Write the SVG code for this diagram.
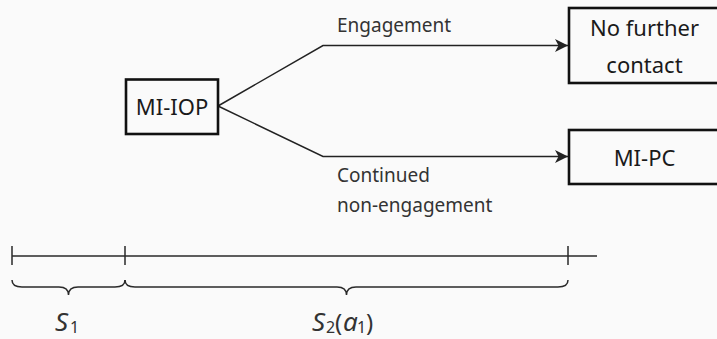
<svg xmlns="http://www.w3.org/2000/svg" width="717" height="339" viewBox="0 0 717 339">
  <defs>
    <marker id="arrow" viewBox="0 0 14 14" refX="13" refY="7" markerWidth="14" markerHeight="14" markerUnits="userSpaceOnUse" orient="auto">
      <path d="M0,0.5 L13,7 L0,13.5 L3.5,7 Z" fill="#222"/>
    </marker>
  </defs>
  <style>
    .box { fill: none; stroke: #111; stroke-width: 2.6; }
    .node-label { font-family: "Noto Sans", "Open Sans", sans-serif; font-size: 22px; fill: #1a1a1a; text-anchor: middle; }
    .edge { fill: none; stroke: #222; stroke-width: 1.5; }
    .edge-label { font-family: "Noto Sans", "Open Sans", sans-serif; font-size: 19px; fill: #333; }
    .axis { fill: none; stroke: #2a2a2a; stroke-width: 1.5; }
    .math { font-family: "Noto Sans", "Open Sans", sans-serif; fill: #333; }
    .it { font-style: italic; font-size: 26px; }
    .up { font-size: 24px; }
    .sub { font-size: 16px; }
  </style>
  <rect width="717" height="339" fill="#fafafa"/>

  <!-- decision connectors -->
  <g id="connectors">
    <path class="edge" d="M218,106 L323,45.5 L568,45.5" marker-end="url(#arrow)"/>
    <path class="edge" d="M218,106 L323,156.5 L568,156.5" marker-end="url(#arrow)"/>
    <text class="edge-label" x="337" y="31.5">Engagement</text>
    <text class="edge-label" x="337" y="182">Continued</text>
    <text class="edge-label" x="337" y="212">non-engagement</text>
  </g>

  <g id="mi-iop">
    <rect class="box" x="126" y="79.5" width="92" height="54.5"/>
    <text class="node-label" x="172" y="114.5">MI-IOP</text>
  </g>

  <g id="no-further-contact">
    <rect class="box" x="569" y="8" width="160" height="75"/>
    <text class="node-label" x="644.5" y="35.5">No further</text>
    <text class="node-label" x="644.5" y="73">contact</text>
  </g>

  <g id="mi-pc">
    <rect class="box" x="569" y="130" width="160" height="54"/>
    <text class="node-label" x="644.5" y="165.5">MI-PC</text>
  </g>

  <!-- time axis with stage braces -->
  <g id="timeline">
    <path class="axis" d="M12,256 H597 M12,246 V265 M125,246 V265 M568,246 V265"/>
    <path class="axis" d="M12,280 Q12,287 22,287 H59 Q68.5,287 68.5,295 Q68.5,287 78,287 H115 Q125,287 125,280"/>
    <path class="axis" d="M125,280 Q125,287 135,287 H337 Q346.5,287 346.5,295 Q346.5,287 356,287 H558 Q568,287 568,280"/>
    <text class="math" y="331"><tspan class="it" x="55">S</tspan><tspan class="sub" x="70" y="333">1</tspan></text>
    <text class="math" y="331"><tspan class="it" x="312">S</tspan><tspan class="sub" x="326" y="333">2</tspan><tspan class="up" x="335" y="331">(</tspan><tspan class="it" x="343" y="331">a</tspan><tspan class="sub" x="357" y="333">1</tspan><tspan class="up" x="366" y="331">)</tspan></text>
  </g>
</svg>
